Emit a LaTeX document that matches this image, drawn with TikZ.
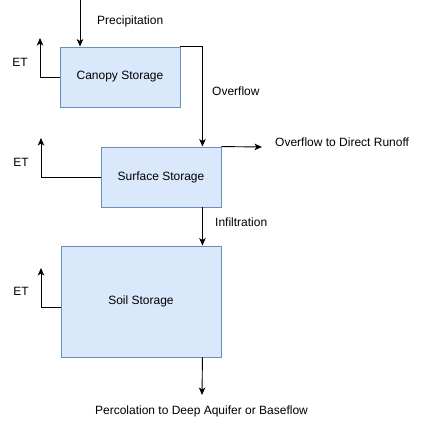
\documentclass[tikz,border=0pt]{standalone}
\usepackage{fontspec}
\setmainfont{Liberation Sans}
\usetikzlibrary{arrows.meta}
\definecolor{boxfill}{HTML}{DAE8FC}
\definecolor{boxline}{HTML}{6C8EBF}
\begin{document}
\begin{tikzpicture}[x=1pt,y=-1pt,
  box/.style={draw=boxline,fill=boxfill,line width=0.9pt,inner sep=0pt,font=\fontsize{12pt}{14pt}\selectfont},
  arr/.style={line width=0.9pt,-{Stealth[length=7.5pt,width=6.5pt,inset=2pt]}},
  lbl/.style={inner sep=0pt,font=\fontsize{12pt}{14pt}\selectfont}]
\fill[white] (0,0) rectangle (422,428);
\useasboundingbox (0,0) rectangle (422,428);
% boxes
\node[box,minimum width=120pt,minimum height=60pt] (canopy) at (120,77) {Canopy Storage};
\node[box,minimum width=120pt,minimum height=60pt] (surface) at (161,177) {Surface Storage};
\node[box,minimum width=160pt,minimum height=111pt] (soil) at (141,301.5) {Soil Storage};
% free ends
\coordinate (p0) at (80,0);
\coordinate (et1) at (40,38);
\coordinate (et2) at (41,138);
\coordinate (et3) at (41,268);
\coordinate (ro) at (262,147);
\coordinate (perc) at (202,395);
% labels
\node[lbl,anchor=west] (lprec) at (97,21) {Precipitation};
\node[lbl] (let1) at (20,62) {ET};
\node[lbl] (let2) at (21,162) {ET};
\node[lbl] (let3) at (21,291) {ET};
\node[lbl,anchor=west] (lover) at (212,91) {Overflow};
\node[lbl,anchor=west] (lro) at (275,142) {Overflow to Direct Runoff};
\node[lbl,anchor=west] (linf) at (215,222) {Infiltration};
\node[lbl] (lperc) at (201.5,411) {Percolation to Deep Aquifer or Baseflow};
% connectors
\draw[arr] (p0) -- (p0 |- canopy.north);
\draw[arr] (canopy.west) -| (et1);
\draw[arr] (canopy.north east) -| ([xshift=-19pt]surface.north east);
\draw[arr] (surface.north east) -- (ro);
\draw[arr] (surface.west) -| (et2);
\draw[arr] ([xshift=-19pt]surface.south east) -- ([xshift=-19pt]soil.north east);
\draw[arr] ([yshift=-5.5pt]soil.west) -| (et3);
\draw[arr] ([xshift=-19pt]soil.south east) -- (perc);
\end{tikzpicture}
\end{document}
